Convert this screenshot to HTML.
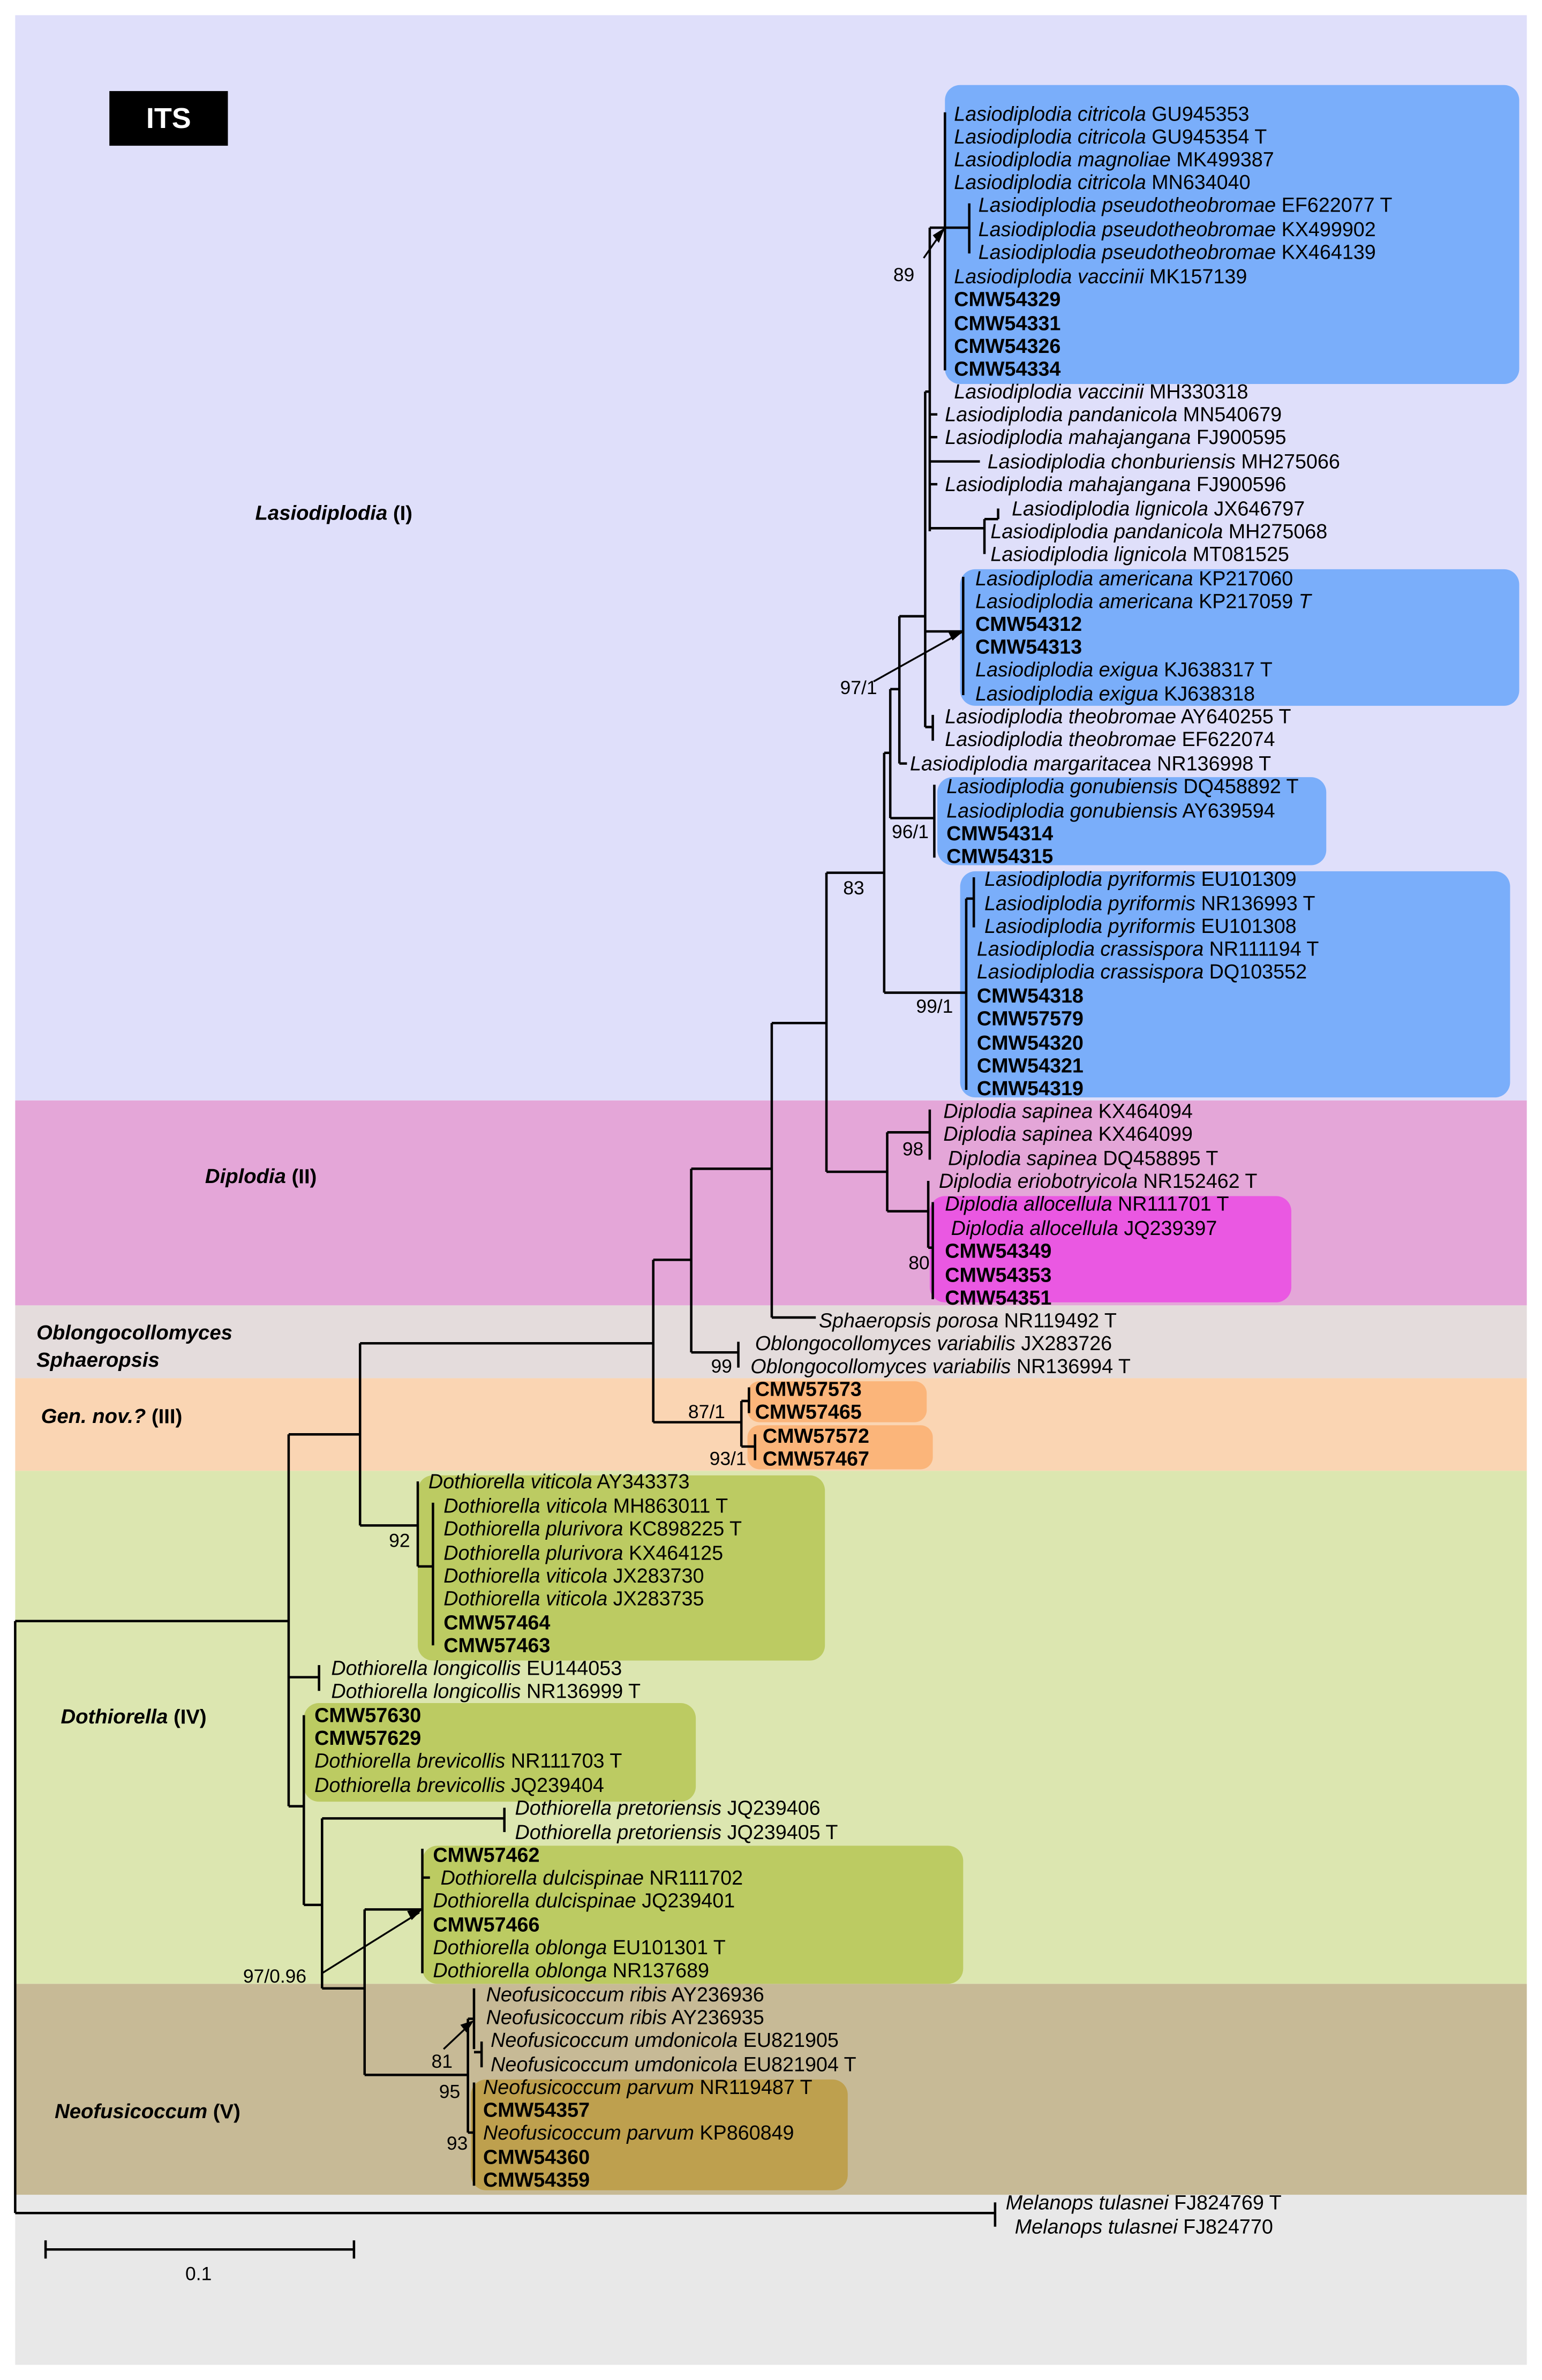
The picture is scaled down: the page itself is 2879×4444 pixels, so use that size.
<!DOCTYPE html>
<html><head><meta charset="utf-8"><style>
html,body{margin:0;padding:0;background:#fff}
svg{display:block}
text{font-family:"Liberation Sans",sans-serif;font-size:13.3px;fill:#000;dominant-baseline:central}
.s{font-size:12.5px}
.i{font-style:italic}
.b{font-weight:bold}
.g{font-weight:bold;font-style:italic;font-size:13.5px}
</style></head><body>
<svg width="2879" height="4444" viewBox="0 0 1015 1568" preserveAspectRatio="none" xmlns="http://www.w3.org/2000/svg">
<rect x="0" y="0" width="1015" height="1568" fill="#fff"/>
<rect x="10" y="10" width="995" height="715" fill="#dfdffa"/>
<rect x="10" y="725" width="995" height="135" fill="#e4a6d8"/>
<rect x="10" y="860" width="995" height="48" fill="#e4dcdc"/>
<rect x="10" y="908" width="995" height="61" fill="#fad5b3"/>
<rect x="10" y="969" width="995" height="338" fill="#dce6b0"/>
<rect x="10" y="1307" width="995" height="139" fill="#c7ba96"/>
<rect x="10" y="1446" width="995" height="112" fill="#e8e8e8"/>

<rect x="622" y="56" width="378" height="197" rx="10" fill="#7aaefa"/>
<rect x="632" y="375" width="368" height="90" rx="10" fill="#7aaefa"/>
<rect x="617" y="512" width="256" height="58" rx="10" fill="#7aaefa"/>
<rect x="632" y="574" width="362" height="149" rx="10" fill="#7aaefa"/>
<rect x="612" y="788" width="238" height="70" rx="10" fill="#ea58e2"/>
<rect x="492" y="910" width="118" height="27" rx="8" fill="#fbb57a"/>
<rect x="492" y="939" width="122" height="29" rx="8" fill="#fbb57a"/>
<rect x="275" y="972" width="268" height="122" rx="10" fill="#bccb62"/>
<rect x="200" y="1122" width="258" height="65" rx="10" fill="#bccb62"/>
<rect x="278" y="1216" width="356" height="91" rx="10" fill="#bccb62"/>
<rect x="310" y="1370" width="248" height="73" rx="10" fill="#bea04e"/>

<rect x="72" y="60" width="78" height="36" fill="#000"/>
<text x="111" y="78" text-anchor="middle" style="fill:#fff;font-weight:bold;font-size:19px">ITS</text>

<g stroke="#000" stroke-width="1.6" fill="none">
<path d="M10 1068 V1458 M10 1068 H190 M10 1458 H655 M655 1451 V1467"/>
<path d="M190 945 V1190 M190 945 H237 M237 885 V1005 M237 885 H430 M237 1005 H275"/>
<path d="M275 976 V1032 M275 1032 H285 M285 990 V1084"/>
<path d="M190 1105 H210 M210 1097 V1114"/>
<path d="M190 1190 H200 M200 1130 V1255 M200 1255 H212"/>
<path d="M212 1198 V1310 M212 1198 H332 M332 1191 V1207"/>
<path d="M212 1310 H240 M240 1258 V1367 M240 1258 H278 M278 1218 V1300 M278 1237 H283"/>
<path d="M240 1367 H308 M308 1330 V1405 M308 1330 H312 M312 1310 V1350 M312 1352 H317 M317 1345 V1362 M308 1405 H312 M312 1372 V1440"/>
<path d="M430 830 V937 M430 830 H455 M430 937 H488 M488 923 V953 M488 923 H493 M493 914 V931 M488 953 H497 M497 945 V962"/>
<path d="M455 770 V891 M455 770 H508 M455 891 H486 M486 884 V901"/>
<path d="M508 674 V868 M508 674 H544 M508 868 H537"/>
<path d="M544 575 V772 M544 575 H582 M544 772 H584"/>
<path d="M584 746 V798 M584 746 H612 M612 731 V764 M584 798 H611 M611 778 V822 M611 822 H614 M614 792 V856"/>
<path d="M582 496 V654 M582 496 H586 M582 654 H636 M636 592 V718 M636 592 H641 M641 578 V611"/>
<path d="M586 454 V539 M586 539 H615 M615 517 V565 M586 454 H592"/>
<path d="M592 406 V503 M592 503 H597 M592 406 H609"/>
<path d="M609 258 V479 M609 479 H614 M614 471 V488 M609 416 H634 M634 380 V458"/>
<path d="M609 258 H612 M612 150 V350 M612 150 H622 M622 74 V244 M622 150 H638 M638 134 V167"/>
<path d="M612 273 H617 M612 304 H645 M612 288 H617 M612 319 H617 M612 348 H648 M648 342 V365 M648 342 H657 M657 335 V342"/>
<path d="M30 1482 H233 M30 1476 V1488 M233 1476 V1488"/>
</g>
<g stroke="#000" stroke-width="1.2">
<line x1="608" y1="170" x2="622" y2="150"/>
<line x1="575" y1="449" x2="634" y2="416"/>
<line x1="212" y1="1300" x2="276" y2="1260"/>
<line x1="292" y1="1350" x2="310" y2="1333"/>
</g>
<g fill="#000">
<polygon points="622,150 614,155 618,160"/>
<polygon points="634,416 624,416 627,422"/>
<polygon points="278,1258 268,1259 271,1265"/>
<polygon points="312,1331 303,1334 307,1339"/>
</g>

<text x="168" y="338" class="g">Lasiodiplodia <tspan font-style="normal">(I)</tspan></text>
<text x="135" y="775" class="g">Diplodia <tspan font-style="normal">(II)</tspan></text>
<text x="24" y="878" class="g">Oblongocollomyces</text>
<text x="24" y="896" class="g">Sphaeropsis</text>
<text x="27" y="933" class="g">Gen. nov.? <tspan font-style="normal">(III)</tspan></text>
<text x="40" y="1131" class="g">Dothiorella <tspan font-style="normal">(IV)</tspan></text>
<text x="36" y="1391" class="g">Neofusicoccum <tspan font-style="normal">(V)</tspan></text>

<text class="s" x="588" y="181">89</text>
<text class="s" x="553" y="453">97/1</text>
<text class="s" x="587" y="548">96/1</text>
<text class="s" x="555" y="585">83</text>
<text class="s" x="603" y="663">99/1</text>
<text class="s" x="594" y="757">98</text>
<text class="s" x="598" y="832">80</text>
<text class="s" x="468" y="900">99</text>
<text class="s" x="453" y="930">87/1</text>
<text class="s" x="467" y="961">93/1</text>
<text class="s" x="256" y="1015">92</text>
<text class="s" x="160" y="1302">97/0.96</text>
<text class="s" x="284" y="1358">81</text>
<text class="s" x="289" y="1378">95</text>
<text class="s" x="294" y="1412">93</text>
<text class="s" x="122" y="1498">0.1</text>

<text x="628" y="75"><tspan class="i">Lasiodiplodia citricola</tspan> GU945353</text>
<text x="628" y="90"><tspan class="i">Lasiodiplodia citricola</tspan> GU945354 T</text>
<text x="628" y="105"><tspan class="i">Lasiodiplodia magnoliae</tspan> MK499387</text>
<text x="628" y="120"><tspan class="i">Lasiodiplodia citricola</tspan> MN634040</text>
<text x="644" y="135"><tspan class="i">Lasiodiplodia pseudotheobromae</tspan> EF622077 T</text>
<text x="644" y="151"><tspan class="i">Lasiodiplodia pseudotheobromae</tspan> KX499902</text>
<text x="644" y="166"><tspan class="i">Lasiodiplodia pseudotheobromae</tspan> KX464139</text>
<text x="628" y="182"><tspan class="i">Lasiodiplodia vaccinii</tspan> MK157139</text>
<text x="628" y="197" class="b">CMW54329</text>
<text x="628" y="213" class="b">CMW54331</text>
<text x="628" y="228" class="b">CMW54326</text>
<text x="628" y="243" class="b">CMW54334</text>
<text x="628" y="258"><tspan class="i">Lasiodiplodia vaccinii</tspan> MH330318</text>
<text x="622" y="273"><tspan class="i">Lasiodiplodia pandanicola</tspan> MN540679</text>
<text x="622" y="288"><tspan class="i">Lasiodiplodia mahajangana</tspan> FJ900595</text>
<text x="650" y="304"><tspan class="i">Lasiodiplodia chonburiensis</tspan> MH275066</text>
<text x="622" y="319"><tspan class="i">Lasiodiplodia mahajangana</tspan> FJ900596</text>
<text x="666" y="335"><tspan class="i">Lasiodiplodia lignicola</tspan> JX646797</text>
<text x="652" y="350"><tspan class="i">Lasiodiplodia pandanicola</tspan> MH275068</text>
<text x="652" y="365"><tspan class="i">Lasiodiplodia lignicola</tspan> MT081525</text>
<text x="642" y="381"><tspan class="i">Lasiodiplodia americana</tspan> KP217060</text>
<text x="642" y="396"><tspan class="i">Lasiodiplodia americana</tspan> KP217059 <tspan class="i">T</tspan></text>
<text x="642" y="411" class="b">CMW54312</text>
<text x="642" y="426" class="b">CMW54313</text>
<text x="642" y="441"><tspan class="i">Lasiodiplodia exigua</tspan> KJ638317 T</text>
<text x="642" y="457"><tspan class="i">Lasiodiplodia exigua</tspan> KJ638318</text>
<text x="622" y="472"><tspan class="i">Lasiodiplodia theobromae</tspan> AY640255 T</text>
<text x="622" y="487"><tspan class="i">Lasiodiplodia theobromae</tspan> EF622074</text>
<text x="599" y="503"><tspan class="i">Lasiodiplodia margaritacea</tspan> NR136998 T</text>
<text x="623" y="518"><tspan class="i">Lasiodiplodia gonubiensis</tspan> DQ458892 T</text>
<text x="623" y="534"><tspan class="i">Lasiodiplodia gonubiensis</tspan> AY639594</text>
<text x="623" y="549" class="b">CMW54314</text>
<text x="623" y="564" class="b">CMW54315</text>
<text x="648" y="579"><tspan class="i">Lasiodiplodia pyriformis</tspan> EU101309</text>
<text x="648" y="595"><tspan class="i">Lasiodiplodia pyriformis</tspan> NR136993 T</text>
<text x="648" y="610"><tspan class="i">Lasiodiplodia pyriformis</tspan> EU101308</text>
<text x="643" y="625"><tspan class="i">Lasiodiplodia crassispora</tspan> NR111194 T</text>
<text x="643" y="640"><tspan class="i">Lasiodiplodia crassispora</tspan> DQ103552</text>
<text x="643" y="656" class="b">CMW54318</text>
<text x="643" y="671" class="b">CMW57579</text>
<text x="643" y="687" class="b">CMW54320</text>
<text x="643" y="702" class="b">CMW54321</text>
<text x="643" y="717" class="b">CMW54319</text>
<text x="621" y="732"><tspan class="i">Diplodia sapinea</tspan> KX464094</text>
<text x="621" y="747"><tspan class="i">Diplodia sapinea</tspan> KX464099</text>
<text x="624" y="763"><tspan class="i">Diplodia sapinea</tspan> DQ458895 T</text>
<text x="618" y="778"><tspan class="i">Diplodia eriobotryicola</tspan> NR152462 T</text>
<text x="622" y="793"><tspan class="i">Diplodia allocellula</tspan> NR111701 T</text>
<text x="626" y="809"><tspan class="i">Diplodia allocellula</tspan> JQ239397</text>
<text x="622" y="824" class="b">CMW54349</text>
<text x="622" y="840" class="b">CMW54353</text>
<text x="622" y="855" class="b">CMW54351</text>
<text x="539" y="870"><tspan class="i">Sphaeropsis porosa</tspan> NR119492 T</text>
<text x="497" y="885"><tspan class="i">Oblongocollomyces variabilis</tspan> JX283726</text>
<text x="494" y="900"><tspan class="i">Oblongocollomyces variabilis</tspan> NR136994 T</text>
<text x="497" y="915" class="b">CMW57573</text>
<text x="497" y="930" class="b">CMW57465</text>
<text x="502" y="946" class="b">CMW57572</text>
<text x="502" y="961" class="b">CMW57467</text>
<text x="282" y="976"><tspan class="i">Dothiorella viticola</tspan> AY343373</text>
<text x="292" y="992"><tspan class="i">Dothiorella viticola</tspan> MH863011 T</text>
<text x="292" y="1007"><tspan class="i">Dothiorella plurivora</tspan> KC898225 T</text>
<text x="292" y="1023"><tspan class="i">Dothiorella plurivora</tspan> KX464125</text>
<text x="292" y="1038"><tspan class="i">Dothiorella viticola</tspan> JX283730</text>
<text x="292" y="1053"><tspan class="i">Dothiorella viticola</tspan> JX283735</text>
<text x="292" y="1069" class="b">CMW57464</text>
<text x="292" y="1084" class="b">CMW57463</text>
<text x="218" y="1099"><tspan class="i">Dothiorella longicollis</tspan> EU144053</text>
<text x="218" y="1114"><tspan class="i">Dothiorella longicollis</tspan> NR136999 T</text>
<text x="207" y="1130" class="b">CMW57630</text>
<text x="207" y="1145" class="b">CMW57629</text>
<text x="207" y="1160"><tspan class="i">Dothiorella brevicollis</tspan> NR111703 T</text>
<text x="207" y="1176"><tspan class="i">Dothiorella brevicollis</tspan> JQ239404</text>
<text x="339" y="1191"><tspan class="i">Dothiorella pretoriensis</tspan> JQ239406</text>
<text x="339" y="1207"><tspan class="i">Dothiorella pretoriensis</tspan> JQ239405 T</text>
<text x="285" y="1222" class="b">CMW57462</text>
<text x="290" y="1237"><tspan class="i">Dothiorella dulcispinae</tspan> NR111702</text>
<text x="285" y="1252"><tspan class="i">Dothiorella dulcispinae</tspan> JQ239401</text>
<text x="285" y="1268" class="b">CMW57466</text>
<text x="285" y="1283"><tspan class="i">Dothiorella oblonga</tspan> EU101301 T</text>
<text x="285" y="1298"><tspan class="i">Dothiorella oblonga</tspan> NR137689</text>
<text x="320" y="1314"><tspan class="i">Neofusicoccum ribis</tspan> AY236936</text>
<text x="320" y="1329"><tspan class="i">Neofusicoccum ribis</tspan> AY236935</text>
<text x="323" y="1344"><tspan class="i">Neofusicoccum umdonicola</tspan> EU821905</text>
<text x="323" y="1360"><tspan class="i">Neofusicoccum umdonicola</tspan> EU821904 T</text>
<text x="318" y="1375"><tspan class="i">Neofusicoccum parvum</tspan> NR119487 T</text>
<text x="318" y="1390" class="b">CMW54357</text>
<text x="318" y="1405"><tspan class="i">Neofusicoccum parvum</tspan> KP860849</text>
<text x="318" y="1421" class="b">CMW54360</text>
<text x="318" y="1436" class="b">CMW54359</text>
<text x="662" y="1451"><tspan class="i">Melanops tulasnei</tspan> FJ824769 T</text>
<text x="668" y="1467"><tspan class="i">Melanops tulasnei</tspan> FJ824770</text>
</svg>
</body></html>
